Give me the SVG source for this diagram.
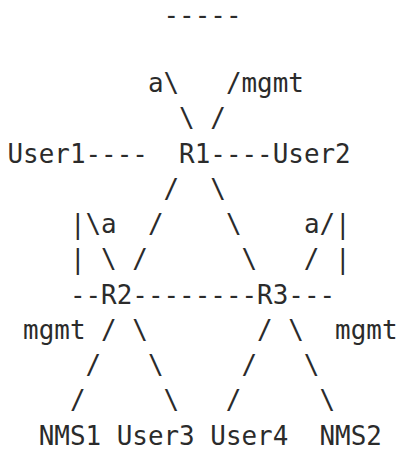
<svg xmlns="http://www.w3.org/2000/svg" width="399" height="452" viewBox="0 0 399 452">
  <style>
    text { font-family: "DejaVu Sans Mono", "Liberation Mono", monospace; font-size: 25.91px; fill: #2b2b2b; white-space: pre; }
  </style>
  <rect width="399" height="452" fill="#ffffff"/>
  <!-- monospace grid: column c sits at x = 7.5 + 15.6*c, row pitch 35.25 -->
  <g id="top-rule">
    <text x="163.5" y="23.5">-----</text>
  </g>
  <g id="labels">
    <text x="147.9" y="92">a</text>
    <text x="241.5" y="92">mgmt</text>
    <text x="101.1" y="233">a</text>
    <text x="303.9" y="233">a</text>
    <text x="23.1" y="338.8">mgmt</text>
    <text x="335.1" y="338.8">mgmt</text>
  </g>
  <g id="User1"><text x="7.5" y="162.5">User1</text></g>
  <g id="R1"><text x="179.1" y="162.5">R1</text></g>
  <g id="User2"><text x="272.7" y="162.5">User2</text></g>
  <g id="R2"><text x="101.1" y="303.5">R2</text></g>
  <g id="R3"><text x="257.1" y="303.5">R3</text></g>
  <g id="NMS1"><text x="38.7" y="444.5">NMS1</text></g>
  <g id="User3"><text x="116.7" y="444.5">User3</text></g>
  <g id="User4"><text x="210.3" y="444.5">User4</text></g>
  <g id="NMS2"><text x="319.5" y="444.5">NMS2</text></g>
  <g id="connectors">
    <!-- links into R1 -->
    <text x="163.5" y="92">\</text>
    <text x="225.9" y="92">/</text>
    <text x="179.1" y="127.3">\ /</text>
    <text x="85.5" y="162.5">----</text>
    <text x="210.3" y="162.5">----</text>
    <!-- R1 down to R2 and R3 -->
    <text x="163.5" y="197.8">/  \</text>
    <text x="69.9" y="233">|\</text>
    <text x="147.9" y="233">/    \</text>
    <text x="319.5" y="233">/|</text>
    <text x="69.9" y="268.3">| \ /      \   / |</text>
    <!-- R2 / R3 row -->
    <text x="69.9" y="303.5">--</text>
    <text x="132.3" y="303.5">--------</text>
    <text x="288.3" y="303.5">---</text>
    <!-- down to the hosts -->
    <text x="101.1" y="338.8">/ \       / \</text>
    <text x="85.5" y="374">/   \     /   \</text>
    <text x="69.9" y="409.3">/     \   /     \</text>
  </g>
</svg>
